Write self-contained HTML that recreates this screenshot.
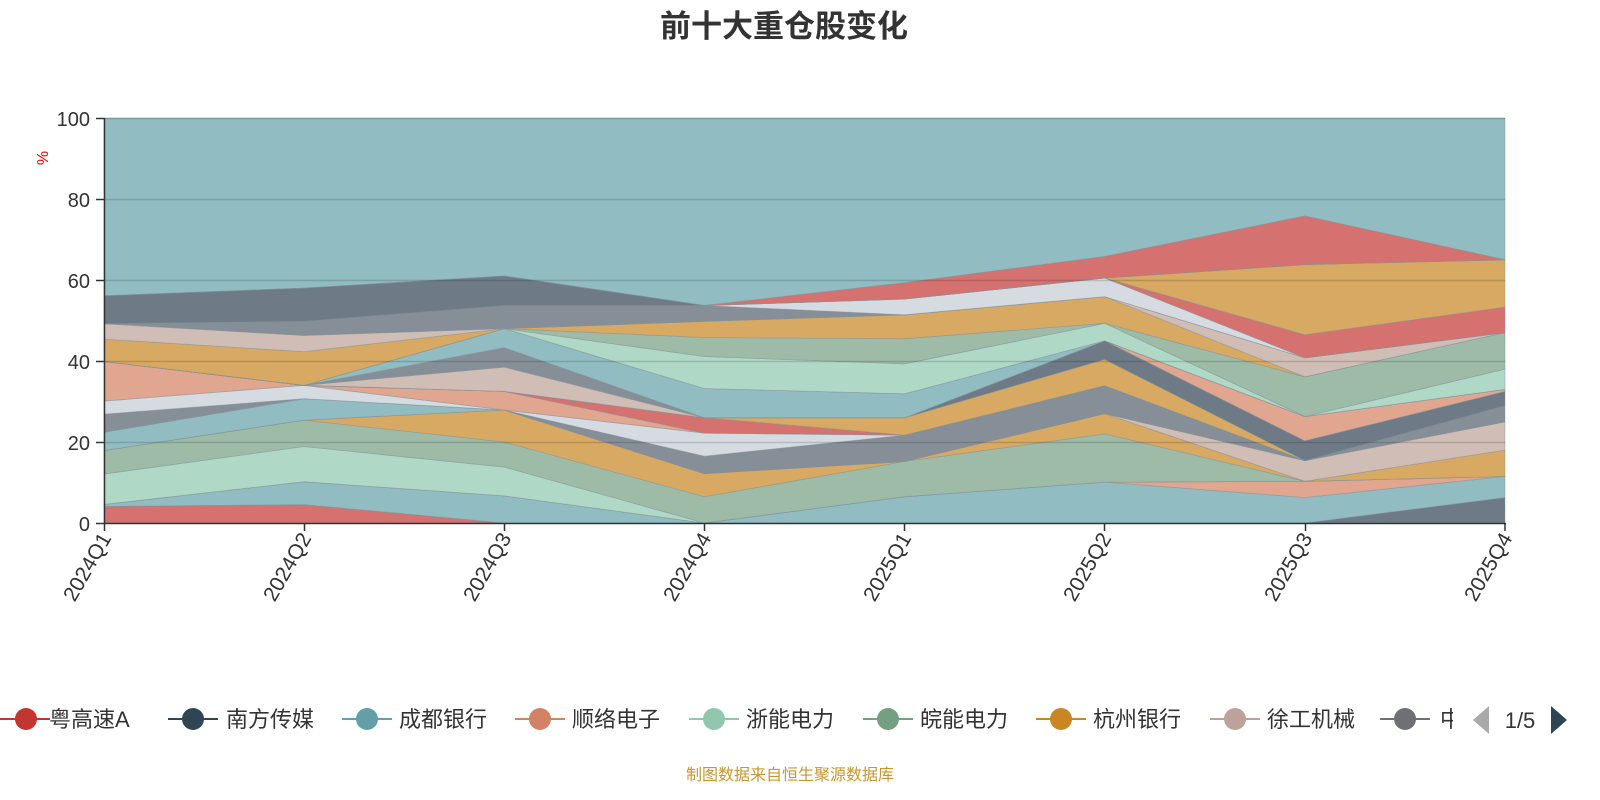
<!DOCTYPE html>
<html><head><meta charset="utf-8"><style>
html,body{margin:0;padding:0;background:#fff;width:1600px;height:800px;overflow:hidden}
svg{display:block}
text{font-family:"Liberation Sans","Noto Sans CJK SC",sans-serif}
</style></head><body>
<svg id="s" width="1600" height="800" xmlns="http://www.w3.org/2000/svg">
<text x="784" y="37" font-size="31" font-weight="bold" fill="#333" text-anchor="middle">前十大重仓股变化</text>
<g id="areas"></g>
<g stroke="#000" stroke-opacity="0.15" stroke-width="1.5">
<line x1="104" y1="118.5" x2="1505" y2="118.5"/><line x1="104" y1="199.5" x2="1505" y2="199.5"/><line x1="104" y1="280.5" x2="1505" y2="280.5"/><line x1="104" y1="361.5" x2="1505" y2="361.5"/><line x1="104" y1="442.5" x2="1505" y2="442.5"/>
</g>
<g stroke="#333" stroke-width="1.5">
<line x1="104.5" y1="118" x2="104.5" y2="523"/>
<line x1="104" y1="523.5" x2="1506" y2="523.5"/>
<line x1="96" y1="118.5" x2="104" y2="118.5"/><line x1="96" y1="199.5" x2="104" y2="199.5"/><line x1="96" y1="280.5" x2="104" y2="280.5"/><line x1="96" y1="361.5" x2="104" y2="361.5"/><line x1="96" y1="442.5" x2="104" y2="442.5"/><line x1="96" y1="523.5" x2="104" y2="523.5"/>
<line x1="104.5" y1="523" x2="104.5" y2="531"/><line x1="304.5" y1="523" x2="304.5" y2="531"/><line x1="504.5" y1="523" x2="504.5" y2="531"/><line x1="704.5" y1="523" x2="704.5" y2="531"/><line x1="904.5" y1="523" x2="904.5" y2="531"/><line x1="1104.5" y1="523" x2="1104.5" y2="531"/><line x1="1305.5" y1="523" x2="1305.5" y2="531"/><line x1="1505" y1="523" x2="1505" y2="531"/>
</g>
<g font-size="20" fill="#333" text-anchor="end">
<text x="90" y="126">100</text><text x="90" y="207">80</text><text x="90" y="288">60</text><text x="90" y="369">40</text><text x="90" y="450">20</text><text x="90" y="531">0</text>
</g>
<text x="48" y="158" font-size="16" fill="#e00" text-anchor="middle" transform="rotate(-90 48 158)">%</text>
<g font-size="21" fill="#333" text-anchor="end">
<text transform="translate(112,538) rotate(-60)">2024Q1</text>
<text transform="translate(312,538) rotate(-60)">2024Q2</text>
<text transform="translate(512,538) rotate(-60)">2024Q3</text>
<text transform="translate(712,538) rotate(-60)">2024Q4</text>
<text transform="translate(912,538) rotate(-60)">2025Q1</text>
<text transform="translate(1112,538) rotate(-60)">2025Q2</text>
<text transform="translate(1313,538) rotate(-60)">2025Q3</text>
<text transform="translate(1513,538) rotate(-60)">2025Q4</text>
</g>
<g font-size="22" fill="#333" stroke-width="2">
<line x1="0" y1="719" x2="50" y2="719" stroke="#c23531"/><circle cx="26" cy="719" r="11" fill="#c23531"/><text x="49" y="727">粤高速A</text>
<line x1="168" y1="719" x2="218" y2="719" stroke="#2f4554"/><circle cx="193" cy="719" r="11" fill="#2f4554"/><text x="226" y="727">南方传媒</text>
<line x1="342" y1="719" x2="392" y2="719" stroke="#61a0a8"/><circle cx="367" cy="719" r="11" fill="#61a0a8"/><text x="399" y="727">成都银行</text>
<line x1="515" y1="719" x2="565" y2="719" stroke="#d48265"/><circle cx="540" cy="719" r="11" fill="#d48265"/><text x="572" y="727">顺络电子</text>
<line x1="689" y1="719" x2="739" y2="719" stroke="#91c7ae"/><circle cx="714" cy="719" r="11" fill="#91c7ae"/><text x="746" y="727">浙能电力</text>
<line x1="863" y1="719" x2="913" y2="719" stroke="#749f83"/><circle cx="888" cy="719" r="11" fill="#749f83"/><text x="920" y="727">皖能电力</text>
<line x1="1036" y1="719" x2="1086" y2="719" stroke="#ca8622"/><circle cx="1061" cy="719" r="11" fill="#ca8622"/><text x="1093" y="727">杭州银行</text>
<line x1="1210" y1="719" x2="1260" y2="719" stroke="#bda29a"/><circle cx="1235" cy="719" r="11" fill="#bda29a"/><text x="1267" y="727">徐工机械</text>
<line x1="1380" y1="719" x2="1430" y2="719" stroke="#6e7074"/><circle cx="1405" cy="719" r="11" fill="#6e7074"/>
<svg x="1438" y="700" width="15" height="40"><text x="2" y="27" font-size="22" fill="#333">中</text></svg>
</g>
<polygon points="1489,706 1489,734 1473,720" fill="#aaa"/>
<text x="1520" y="728" font-size="22" fill="#333" text-anchor="middle">1/5</text>
<polygon points="1551,706 1551,734 1567,720" fill="#2f4554"/>
<text x="790" y="780" font-size="16" fill="#c8962e" text-anchor="middle">制图数据来自恒生聚源数据库</text>
</svg>
<script>
var C={red:'#d5716f',ds:'#6e7b86',teal:'#91bcc2',sal:'#e0a690',lg:'#b0d8c6',gg:'#9dbba7',or:'#d8a962',pk:'#d0bdb6',gr:'#868f98',wh:'#d6dbe2'};
var S=[
['red',[4.1,4.55,0,0,0,0,0,0]],
['ds',[0,0,0,0,0,0,0,6.3]],
['teal',[0.5,5.65,6.7,0,6.5,10.1,6.3,5.2]],
['sal',[0,0,0,0,0,0,4,0]],
['lg',[7.5,8.7,7.1,0,0,0,0,0]],
['gg',[5.8,6.5,6.2,6.5,8.7,11.9,0,0]],
['or',[0,0,7.9,5.7,0,5,0,6.5]],
['pk',[0,0,0,0,0,0,5.1,7]],
['teal',[4.5,5.3,0,0,0,0,0,0]],
['gr',[4.5,0,0,4.3,6.5,6.9,0,4]],
['wh',[3.2,3.3,0,5.7,0,0,0,0]],
['sal',[9.8,0,4.6,0,0,0,0,0]],
['red',[0,0,0,3.8,0,0,0,0]],
['or',[0,0,0,0,4.3,6.5,0,0]],
['ds',[0,0,0,0,0,4.6,4.9,3.5]],
['sal',[0,0,0,0,0,0,6,0.5]],
['pk',[0,0,6.0,0,0,0,0,0]],
['gr',[0,0,4.8,0,0,0,0,0]],
['teal',[0,0,4.7,7.2,5.9,0,0,0]],
['lg',[0,0,0,7.9,7.4,4.3,0,5]],
['gg',[0,0,0,4.7,6.2,0,9.8,9]],
['or',[5.5,8.3,0,4.0,5.9,6.6,0,0]],
['pk',[3.8,4.0,0,0,0,0,4.7,0]],
['gr',[0,3.5,5.7,3.9,0,0,0,0]],
['wh',[0,0,0,0,3.9,4.6,0,0]],
['red',[0,0,0,0,0,0,5.7,6.3]],
['or',[0,0,0,0,0,0,17.3,11.7]],
['ds',[6.9,8.2,7.3,0,0,0,0,0]],
['red',[0,0,0,0,4.0,5.3,12,0]]
];
var X=[104,304.1,504.3,704.4,904.6,1104.7,1304.9,1505];
function Y(v){return 523-v*4.05;}
var base=[0,0,0,0,0,0,0,0],h='';
S.forEach(function(s){
 var top=base.map(function(b,i){return b+s[1][i];});
 var p=[];for(var i=0;i<8;i++)p.push(X[i]+','+Y(top[i]).toFixed(1));
 for(var i=7;i>=0;i--)p.push(X[i]+','+Y(base[i]).toFixed(1));
 h+='<polygon points="'+p.join(' ')+'" fill="'+C[s[0]]+'" stroke="#7f8f96" stroke-opacity="0.5" stroke-width="0.8"/>';
 base=top;
});
var p=[];for(var i=0;i<8;i++)p.push(X[i]+','+Y(100));
for(var i=7;i>=0;i--)p.push(X[i]+','+Y(base[i]).toFixed(1));
h='<polygon points="'+p.join(' ')+'" fill="'+C.teal+'" stroke="#7f8f96" stroke-opacity="0.5" stroke-width="0.8"/>'+h;
document.getElementById('areas').innerHTML=h;
</script>
</body></html>
